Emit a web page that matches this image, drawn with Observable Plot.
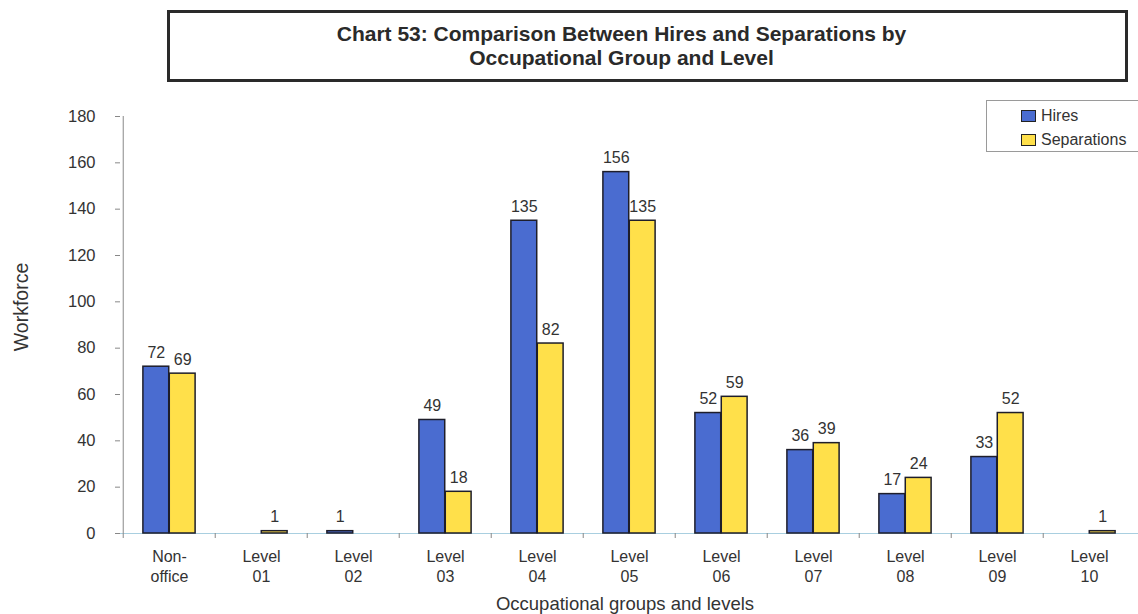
<!DOCTYPE html>
<html>
<head>
<meta charset="utf-8">
<script src="https://cdn.jsdelivr.net/npm/d3@7"></script>
<script src="https://cdn.jsdelivr.net/npm/@observablehq/plot@0.6"></script>
<style>
  html, body { margin: 0; padding: 0; background: #fff; }
  body { font-family: "Liberation Sans", Arial, sans-serif; }
  #wrap { position: relative; width: 1138px; height: 614px; overflow: hidden; }
  #title {
    position: absolute; left: 167px; top: 10px; width: 955px; height: 66px;
    border: 3px solid #2a2a2a; box-sizing: content-box;
    display: flex; align-items: center; justify-content: center;
  }
  #title div {
    font-weight: bold; font-size: 21px; line-height: 24px; color: #2a2a2a;
    text-align: center; margin-right: 52px;
  }
  #chart { position: absolute; left: 0; top: 90px; }
  #legend {
    position: absolute; left: 986px; top: 100px; width: 160px; height: 50px;
    border: 1px solid #9a9a9a; background: #fff; font-size: 16px; color: #333;
  }
  .li { position: absolute; left: 34px; height: 20px; display: flex; align-items: center; }
  .sw { width: 13px; height: 10px; border: 1px solid #222; margin-right: 5px; }
  #ylab {
    position: absolute; left: 21px; top: 307px; transform: translate(-50%, -50%) rotate(-90deg);
    font-size: 19.5px; color: #333; white-space: nowrap;
  }
  #xlab {
    position: absolute; left: 625px; top: 604px; transform: translate(-50%, -50%);
    font-size: 18.5px; color: #333; white-space: nowrap;
  }
</style>
</head>
<body>
<div id="wrap">
  <div id="title"><div>Chart 53: Comparison Between Hires and Separations by<br>Occupational Group and Level</div></div>
  <div id="chart"></div>
  <div id="ylab">Workforce</div>
  <div id="xlab">Occupational groups and levels</div>
  <div id="legend">
    <div class="li" style="top:5px"><span class="sw" style="background:#4a6cd0"></span>Hires</div>
    <div class="li" style="top:29px"><span class="sw" style="background:#ffe04a"></span>Separations</div>
  </div>
</div>
<script>
const categories = ["Non-office", "Level 01", "Level 02", "Level 03", "Level 04", "Level 05", "Level 06", "Level 07", "Level 08", "Level 09", "Level 10"];
const tickLabels = ["Non-\noffice", "Level\n01", "Level\n02", "Level\n03", "Level\n04", "Level\n05", "Level\n06", "Level\n07", "Level\n08", "Level\n09", "Level\n10"];
const hires = [72, 0, 1, 49, 135, 156, 52, 36, 17, 33, 0];
const separations = [69, 1, 0, 18, 82, 135, 59, 39, 24, 52, 1];
const yTicks = [0, 20, 40, 60, 80, 100, 120, 140, 160, 180];

const W = 1138, H = 524, mL = 120, mR = 0, mT = 26, mB = 81;
const bw = (W - mL - mR) / categories.length;
const barF = 0.285, gapF = (1 - 2 * barF) / 2;

const hData = categories.map((c, i) => ({cat: c, v: hires[i]})).filter(d => d.v > 0);
const sData = categories.map((c, i) => ({cat: c, v: separations[i]})).filter(d => d.v > 0);
const labelMap = new Map(categories.map((c, i) => [c, tickLabels[i]]));

const plot = Plot.plot({
  width: W, height: H,
  marginLeft: mL, marginRight: mR, marginTop: mT, marginBottom: mB,
  style: {fontFamily: '"Liberation Sans", Arial, sans-serif', fontSize: "16px", color: "#333", background: "transparent"},
  x: {domain: categories, padding: 0},
  y: {domain: [0, 180]},
  marks: [
    Plot.axisY({ticks: yTicks, tickSize: 5, tickPadding: 20, label: null, stroke: "#888", fontSize: 16.5}),
    Plot.axisX({tickSize: 0, tickPadding: 14, lineHeight: 1.25, tickFormat: d => labelMap.get(d), label: null, fontSize: 16}),
    Plot.ruleY([0], {stroke: "#a9cfe0", strokeWidth: 1.2}),
    Plot.ruleX(categories, {x: d => d, y1: 0, y2: 0, insetBottom: -5, dx: -bw / 2, stroke: "#888"}),
    Plot.ruleX([categories[0]], {x: d => d, y1: 0, y2: 180, dx: -bw / 2, stroke: "#888"}),
    Plot.barY(hData, {x: "cat", y: "v", fill: "#4a6cd0", stroke: "#1e1e2a", strokeWidth: 1.5,
      insetLeft: gapF * bw, insetRight: (gapF + barF) * bw}),
    Plot.barY(sData, {x: "cat", y: "v", fill: "#ffe04a", stroke: "#1e1e2a", strokeWidth: 1.5,
      insetLeft: (gapF + barF) * bw, insetRight: gapF * bw}),
    Plot.text(hData, {x: "cat", y: "v", text: d => String(d.v), dx: -barF * bw / 2, dy: -9, lineAnchor: "bottom", fill: "#333", fontSize: 16}),
    Plot.text(sData, {x: "cat", y: "v", text: d => String(d.v), dx: barF * bw / 2, dy: -9, lineAnchor: "bottom", fill: "#333", fontSize: 16})
  ]
});
document.getElementById("chart").appendChild(plot);
</script>
</body>
</html>
